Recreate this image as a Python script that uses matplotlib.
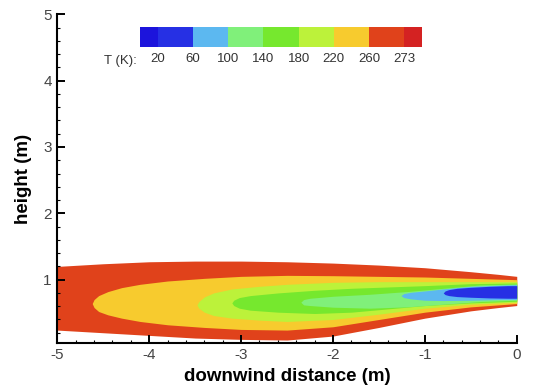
import numpy as np
import matplotlib
matplotlib.use('agg')
import matplotlib.pyplot as plt
from matplotlib.colors import ListedColormap, BoundaryNorm
from matplotlib.colorbar import ColorbarBase
from matplotlib.ticker import MultipleLocator

plt.rcParams['font.family'] = ['Liberation Sans', 'DejaVu Sans']
plt.rcParams['axes.unicode_minus'] = False

# temperature levels (K) and the colour of each band between them
levels = [20, 60, 100, 140, 180, 220, 260, 273]
band_colors = ['#2630e4', '#5cb8f0', '#80f07a', '#76e82e', '#bcf23a', '#f7cb2e', '#e0421b']
under_color = '#1c14dc'
over_color = '#d42222'

# contour outlines: x (m), upper and lower height (m)
t273_x = [-5.0, -4.5, -4.0, -3.5, -3.0, -2.5, -2.0, -1.5, -1.0, -0.5, -0.2, 0.0]
t273_up = [1.20, 1.24, 1.27, 1.28, 1.28, 1.27, 1.25, 1.22, 1.18, 1.12, 1.08, 1.05]
t273_lo = [0.24, 0.20, 0.16, 0.12, 0.10, 0.09, 0.15, 0.28, 0.42, 0.53, 0.58, 0.61]

t260_x = [-4.62, -4.6, -4.55, -4.45, -4.3, -4.1, -3.8, -3.4, -3.0, -2.5, -2.0, -1.5, -1.0, -0.5, 0.0]
t260_up = [0.64, 0.70, 0.76, 0.82, 0.88, 0.93, 0.98, 1.02, 1.05, 1.065, 1.06, 1.05, 1.04, 1.02, 1.00]
t260_lo = [0.64, 0.58, 0.52, 0.47, 0.42, 0.37, 0.32, 0.28, 0.25, 0.24, 0.29, 0.40, 0.51, 0.59, 0.64]

t220_x = [-3.48, -3.46, -3.4, -3.3, -3.1, -2.8, -2.5, -2.0, -1.5, -1.0, -0.5, 0.0]
t220_up = [0.62, 0.67, 0.74, 0.80, 0.86, 0.90, 0.93, 0.96, 0.97, 0.97, 0.97, 0.97]
t220_lo = [0.62, 0.57, 0.51, 0.46, 0.42, 0.39, 0.37, 0.40, 0.48, 0.57, 0.63, 0.66]

t180_x = [-3.10, -3.08, -3.02, -2.9, -2.6, -2.2, -1.8, -1.4, -1.0, -0.5, 0.0]
t180_up = [0.65, 0.69, 0.73, 0.76, 0.80, 0.84, 0.87, 0.89, 0.91, 0.94, 0.95]
t180_lo = [0.65, 0.61, 0.57, 0.54, 0.51, 0.49, 0.51, 0.56, 0.61, 0.65, 0.675]

t140_x = [-2.35, -2.32, -2.25, -2.0, -1.6, -1.2, -0.8, -0.4, 0.0]
t140_up = [0.66, 0.70, 0.72, 0.75, 0.78, 0.82, 0.87, 0.92, 0.935]
t140_lo = [0.66, 0.62, 0.61, 0.585, 0.57, 0.59, 0.63, 0.67, 0.69]

t100_x = [-1.26, -1.23, -1.15, -1.0, -0.8, -0.5, -0.2, 0.0]
t100_up = [0.76, 0.79, 0.81, 0.83, 0.86, 0.90, 0.915, 0.925]
t100_lo = [0.76, 0.73, 0.71, 0.69, 0.685, 0.69, 0.70, 0.70]

t60_x = [-0.80, -0.78, -0.74, -0.65, -0.5, -0.3, -0.1, 0.0]
t60_up = [0.80, 0.83, 0.85, 0.87, 0.885, 0.90, 0.91, 0.91]
t60_lo = [0.80, 0.775, 0.76, 0.745, 0.735, 0.725, 0.72, 0.72]

contours = [
    (273, t273_x, t273_up, t273_lo),
    (260, t260_x, t260_up, t260_lo),
    (220, t220_x, t220_up, t220_lo),
    (180, t180_x, t180_up, t180_lo),
    (140, t140_x, t140_up, t140_lo),
    (100, t100_x, t100_up, t100_lo),
    (60, t60_x, t60_up, t60_lo),
]

cmap = ListedColormap(band_colors)
cmap.set_under(under_color)
cmap.set_over(over_color)
norm = BoundaryNorm(levels, cmap.N)

fig = plt.figure(figsize=(5.33, 3.9), dpi=100)
ax = fig.add_axes([0.1075, 0.1213, 0.862, 0.842])

# nested filled regions, outermost first; each is coloured by the band just below its level
for lev, xs, up, lo in contours:
    ax.fill_between(xs, lo, up, color=cmap(norm(lev - 1)), lw=0, zorder=1)

ax.set_xlim(-5, 0)
ax.set_ylim(0.05, 5)
ax.xaxis.set_major_locator(MultipleLocator(1))
ax.xaxis.set_minor_locator(MultipleLocator(0.2))
ax.yaxis.set_major_locator(MultipleLocator(1))
ax.yaxis.set_minor_locator(MultipleLocator(0.2))
ax.spines['top'].set_visible(False)
ax.spines['right'].set_visible(False)
for s in ['left', 'bottom']:
    ax.spines[s].set_linewidth(1.5)
    ax.spines[s].set_zorder(5)
ax.tick_params(which='major', direction='in', length=5.5, width=1.4, labelsize=11,
               labelcolor='#444444', pad=4)
ax.tick_params(which='minor', direction='in', length=2.5, width=0.8)
ax.set_xlabel('downwind distance (m)', fontsize=13.5, fontweight='bold', labelpad=4)
ax.set_ylabel('height (m)', fontsize=13.5, fontweight='bold', labelpad=8)

# legend bar at the top of the plot
cax = fig.add_axes([0.2627, 0.8787, 0.529, 0.0528])
cb = ColorbarBase(cax, cmap=cmap, norm=norm, orientation='horizontal', extend='both',
                  extendrect=True, extendfrac=0.5 / 7, spacing='uniform', ticks=levels)
cb.outline.set_visible(False)
cax.tick_params(length=0, labelsize=9.5, labelcolor='#333333', pad=4)
fig.text(0.2570, 0.843, 'T (K):', fontsize=9.5, color='#333333', ha='right', va='center')

fig.savefig('out.png', dpi=100)
